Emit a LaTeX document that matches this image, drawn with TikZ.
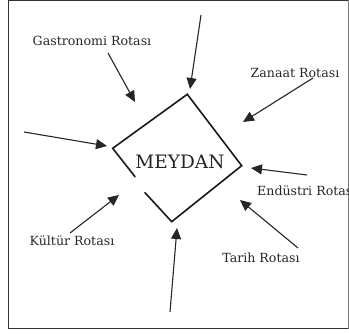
\documentclass[tikz,border=0pt]{standalone}
\usepackage{fontspec}
\setmainfont{DejaVu Serif}
\usetikzlibrary{arrows.meta}
\begin{document}
\begin{tikzpicture}[x=1pt,y=-1pt,
  lab/.style={inner sep=0pt, text=black!85, font=\fontsize{12.6}{15}\selectfont},
  arr/.style={line width=1.1pt, black!85, -{Triangle[length=11pt,width=10pt]}},
  box/.style={line width=1.6pt, black!90, line cap=round, line join=miter}]
\useasboundingbox (0,0) rectangle (349,334);
\begin{scope}
\clip (0,0) rectangle (348.6,334);
\draw[line width=1pt, black!80] (8,1) rectangle (348.5,328.5);
% diamond
\coordinate (dt) at (187.3,94.3);
\coordinate (dr) at (241.7,165.7);
\coordinate (db) at (171.7,221.7);
\coordinate (dl) at (112.7,148.3);
\coordinate (g1) at (135,176.7);
\coordinate (g2) at (145,192.7);
\draw[box] (g1) -- (dl) -- (dt) -- (dr) -- (db) -- (g2);
\node[inner sep=0pt, font=\fontsize{18.5}{22}\selectfont, text=black!85] (meydan) at (180,162) {MEYDAN};
% labels
\node[lab] (gas) at (92,41) {Gastronomi Rotası};
\node[lab] (zan) at (295,73) {Zanaat Rotası};
\node[lab, anchor=west] (end) at (257,191) {Endüstri Rotası};
\node[lab] (kul) at (72,241) {Kültür Rotası};
\node[lab] (tar) at (261,258) {Tarih Rotası};
% arrow ends
\coordinate (a1s) at (201,15);  \coordinate (a1e) at (190,89);
\coordinate (a2s) at (108,53);  \coordinate (a2e) at (135,102);
\coordinate (a3s) at (313,78);  \coordinate (a3e) at (243,122);
\coordinate (a4s) at (24,132);  \coordinate (a4e) at (107,146);
\coordinate (a5s) at (307,175); \coordinate (a5e) at (251,168);
\coordinate (a6s) at (70,233);  \coordinate (a6e) at (119,195);
\coordinate (a7s) at (298,248); \coordinate (a7e) at (240,200);
\coordinate (a8s) at (170,312); \coordinate (a8e) at (177,228);
\foreach \i in {1,...,8} {\draw[arr] (a\i s) -- (a\i e);}
\end{scope}
\end{tikzpicture}
\end{document}
